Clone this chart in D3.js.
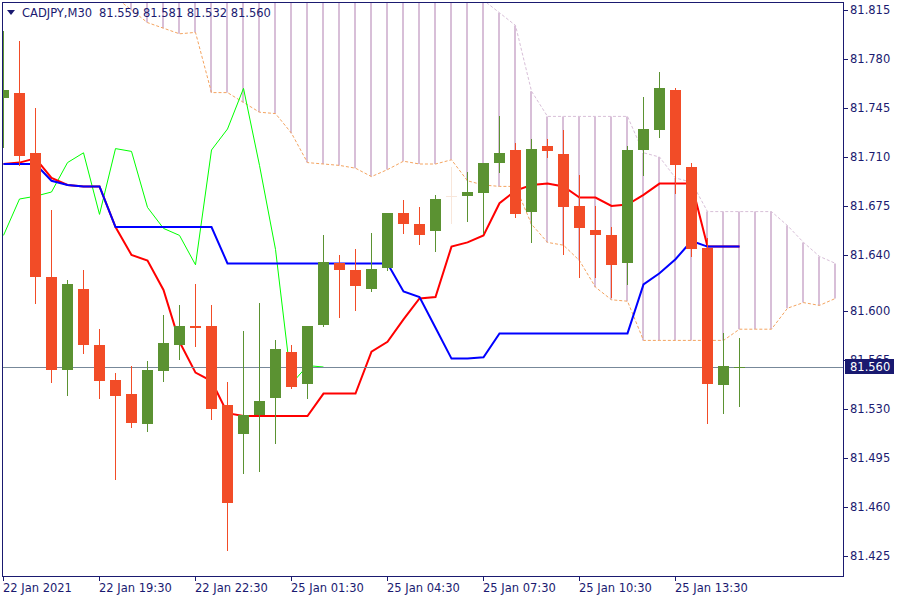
<!DOCTYPE html>
<html><head><meta charset="utf-8">
<script src="https://cdn.jsdelivr.net/npm/d3@7"></script>
<style>
body{margin:0;background:#fff}
svg{display:block}
text{font-family:"DejaVu Sans",sans-serif;font-size:11.5px}
</style></head>
<body><svg id="c" width="900" height="600"></svg>
<script>
// ---- data ----
const symbol = "CADJPY,M30";
const lastQuote = ["81.559", "81.581", "81.532", "81.560"];
const lastPrice = 81.560;
const timeLabels = ["22 Jan 2021","22 Jan 19:30","22 Jan 22:30","25 Jan 01:30","25 Jan 04:30","25 Jan 07:30","25 Jan 10:30","25 Jan 13:30"];
const timeLabelIdx = [0, 6, 12, 18, 24, 30, 36, 42];
const priceTicks = [81.815, 81.780, 81.745, 81.710, 81.675, 81.640, 81.600, 81.565, 81.530, 81.495, 81.460, 81.425];

const open  = [81.752,81.756,81.713,81.624,81.558,81.616,81.576,81.551,81.541,81.519,81.557,81.576,81.589,81.589,81.533,81.512,81.526,81.538,81.571,81.548,81.590,81.634,81.629,81.616,81.631,81.670,81.662,81.657,81.682,81.682,81.684,81.706,81.715,81.671,81.718,81.712,81.675,81.658,81.654,81.634,81.715,81.729,81.758,81.703,81.645,81.547,81.559];
const high  = [81.800,81.793,81.745,81.672,81.622,81.629,81.587,81.556,81.561,81.564,81.597,81.604,81.619,81.604,81.549,81.586,81.606,81.579,81.576,81.589,81.654,81.640,81.644,81.656,81.670,81.679,81.674,81.683,81.703,81.699,81.706,81.739,81.720,81.723,81.723,81.729,81.697,81.675,81.660,81.718,81.753,81.771,81.759,81.706,81.652,81.584,81.581];
const low   = [81.717,81.704,81.606,81.549,81.540,81.570,81.538,81.480,81.517,81.514,81.550,81.566,81.575,81.523,81.429,81.484,81.486,81.506,81.545,81.538,81.589,81.596,81.601,81.614,81.629,81.656,81.648,81.643,81.663,81.664,81.656,81.699,81.667,81.649,81.710,81.641,81.624,81.624,81.610,81.619,81.697,81.724,81.684,81.639,81.520,81.527,81.532];
const close = [81.758,81.711,81.624,81.558,81.619,81.576,81.550,81.539,81.520,81.558,81.577,81.589,81.588,81.530,81.463,81.526,81.536,81.573,81.546,81.589,81.635,81.629,81.618,81.630,81.670,81.662,81.654,81.680,81.682,81.685,81.706,81.713,81.669,81.716,81.714,81.674,81.659,81.654,81.633,81.715,81.730,81.759,81.704,81.644,81.548,81.561,81.560];

const tenkan = [81.705,81.706,81.709,81.695,81.690,81.689,81.689,81.660,81.640,81.636,81.615,81.578,81.556,81.550,81.527,81.525,81.525,81.525,81.525,81.525,81.541,81.541,81.541,81.571,81.578,81.594,81.609,81.610,81.646,81.649,81.654,81.677,81.686,81.690,81.691,81.689,81.681,81.681,81.675,81.676,81.683,81.691,81.691,81.691,81.646,81.646,81.646];
const kijun  = [81.705,81.705,81.705,81.693,81.690,81.689,81.689,81.660,81.660,81.660,81.660,81.660,81.660,81.660,81.634,81.634,81.634,81.634,81.634,81.634,81.634,81.634,81.634,81.634,81.634,81.614,81.610,81.588,81.566,81.566,81.567,81.584,81.584,81.584,81.584,81.584,81.584,81.584,81.584,81.584,81.619,81.627,81.637,81.650,81.646,81.646,81.646];
// Senkou spans (shifted 26 bars forward, 53 slots)
const spanA = [null,null,null,null,null,null,null,81.824,81.815,81.806,81.802,81.798,81.799,81.756,81.756,81.749,81.742,81.741,81.727,81.706,81.705,81.704,81.702,81.696,81.701,81.707,81.705,81.705,81.708,81.693,81.690,81.689,81.689,81.662,81.649,81.647,81.636,81.617,81.608,81.607,81.579,81.579,81.579,81.579,81.579,81.579,81.587,81.587,81.587,81.602,81.606,81.604,81.609];
const spanB = [null,null,null,null,null,null,null,81.835,81.835,81.835,81.835,81.835,81.835,81.835,81.835,81.835,81.835,81.835,81.835,81.835,81.835,81.835,81.835,81.835,81.835,81.835,81.835,81.835,81.835,81.835,81.822,81.813,81.804,81.757,81.739,81.739,81.739,81.739,81.739,81.739,81.713,81.710,81.695,81.692,81.671,81.671,81.671,81.671,81.671,81.661,81.649,81.639,81.634];

// ---- drawing ----
const svg = d3.select("#c");
const navy = "#1a1a70";
const L = 2, T = 2, R = 843, B = 576;
const x = d3.scaleLinear().domain([0, 52]).range([3.5, 835.5]);
const y = d3.scaleLinear().domain([81.425, 81.815]).range([556, 10]);

svg.append("rect").attr("width", 900).attr("height", 600).attr("fill", "#fff");
svg.append("defs").append("clipPath").attr("id", "clip")
  .append("rect").attr("x", L + 1).attr("y", T + 1).attr("width", R - L - 1).attr("height", B - T - 1);
const plot = svg.append("g").attr("clip-path", "url(#clip)");

// cloud histogram
const cloudIdx = d3.range(spanA.length).filter(i => spanA[i] != null && spanB[i] != null);
plot.append("g").selectAll("line").data(cloudIdx).join("line")
  .attr("x1", i => x(i) - 0.5).attr("x2", i => x(i) - 0.5)
  .attr("y1", i => y(spanB[i])).attr("y2", i => y(spanA[i]))
  .attr("stroke", i => spanB[i] >= spanA[i] ? "#d8bfd8" : "#f4a460").attr("stroke-width", 2);

const lineGen = d3.line().defined(d => d != null).x((d, i) => x(i)).y(d => y(d));
plot.append("path").attr("d", lineGen(spanA)).attr("fill", "none")
  .attr("stroke", "#f4a460").attr("stroke-width", 1).attr("stroke-dasharray", "3,2");
plot.append("path").attr("d", lineGen(spanB)).attr("fill", "none")
  .attr("stroke", "#d8bfd8").attr("stroke-width", 1).attr("stroke-dasharray", "3,2");

// chikou = close shifted 26 bars back
const chikou = close.slice(26);
plot.append("path").attr("d", lineGen(chikou)).attr("fill", "none")
  .attr("stroke", "#00ff00").attr("stroke-width", 1);
plot.append("path").attr("d", lineGen(tenkan)).attr("fill", "none")
  .attr("stroke", "#ff0000").attr("stroke-width", 2);
plot.append("path").attr("d", lineGen(kijun)).attr("fill", "none")
  .attr("stroke", "#0000ff").attr("stroke-width", 2);

// bid line
plot.append("line").attr("x1", L).attr("x2", R)
  .attr("y1", Math.round(y(lastPrice)) + 0.5).attr("y2", Math.round(y(lastPrice)) + 0.5)
  .attr("stroke", "#778899").attr("stroke-width", 1);

// candles
const candles = d3.range(open.length);
const col = i => close[i] > open[i] ? "#5b9232" : (close[i] < open[i] ? "#f24c27" : "#f8e6da");
const cg = plot.append("g").selectAll("g").data(candles).join("g");
cg.append("line")
  .attr("x1", i => x(i)).attr("x2", i => x(i))
  .attr("y1", i => Math.round(y(high[i]))).attr("y2", i => Math.round(y(low[i])) + 1)
  .attr("stroke", col).attr("stroke-width", 1);
cg.append("rect")
  .attr("x", i => x(i) - 5.5).attr("width", 11)
  .attr("y", i => Math.round(y(Math.max(open[i], close[i]))))
  .attr("height", i => Math.max(1, Math.round(y(Math.min(open[i], close[i]))) - Math.round(y(Math.max(open[i], close[i])))))
  .attr("fill", col);

// frame
svg.append("rect").attr("x", L + 0.5).attr("y", T + 0.5).attr("width", R - L).attr("height", B - T)
  .attr("fill", "none").attr("stroke", navy).attr("stroke-width", 1);

// y axis
const ya = svg.append("g");
ya.selectAll("line").data(priceTicks).join("line")
  .attr("x1", R).attr("x2", R + 5)
  .attr("y1", d => Math.round(y(d)) + 0.5).attr("y2", d => Math.round(y(d)) + 0.5)
  .attr("stroke", navy);
ya.selectAll("text").data(priceTicks).join("text")
  .attr("x", 850).attr("y", d => y(d)).attr("dy", "0.36em")
  .attr("fill", navy).text(d => d.toFixed(3));

// x axis
const xa = svg.append("g");
xa.selectAll("line").data(timeLabelIdx).join("line")
  .attr("x1", i => Math.floor(x(i)) + 0.5).attr("x2", i => Math.floor(x(i)) + 0.5)
  .attr("y1", B).attr("y2", B + 5).attr("stroke", navy);
xa.selectAll("text").data(timeLabelIdx).join("text")
  .attr("x", i => x(i) - 0.5).attr("y", 592)
  .attr("fill", navy).text((i, k) => timeLabels[k]);

// last price box
const py = Math.round(y(lastPrice));
svg.append("rect").attr("x", 845).attr("y", py - 8).attr("width", 49).attr("height", 15).attr("fill", "#191970");
svg.append("text").attr("x", 850).attr("y", py).attr("dy", "0.36em").attr("fill", "#fff").text(lastPrice.toFixed(3));

// title
svg.append("path").attr("d", "M7,10 L15,10 L11,15 Z").attr("fill", navy);
svg.append("text").attr("x", 22).attr("y", 17).attr("fill", navy).text(symbol);
svg.append("text").attr("x", 99).attr("y", 17).attr("fill", navy).text(lastQuote.join(" "));
</script></body></html>
